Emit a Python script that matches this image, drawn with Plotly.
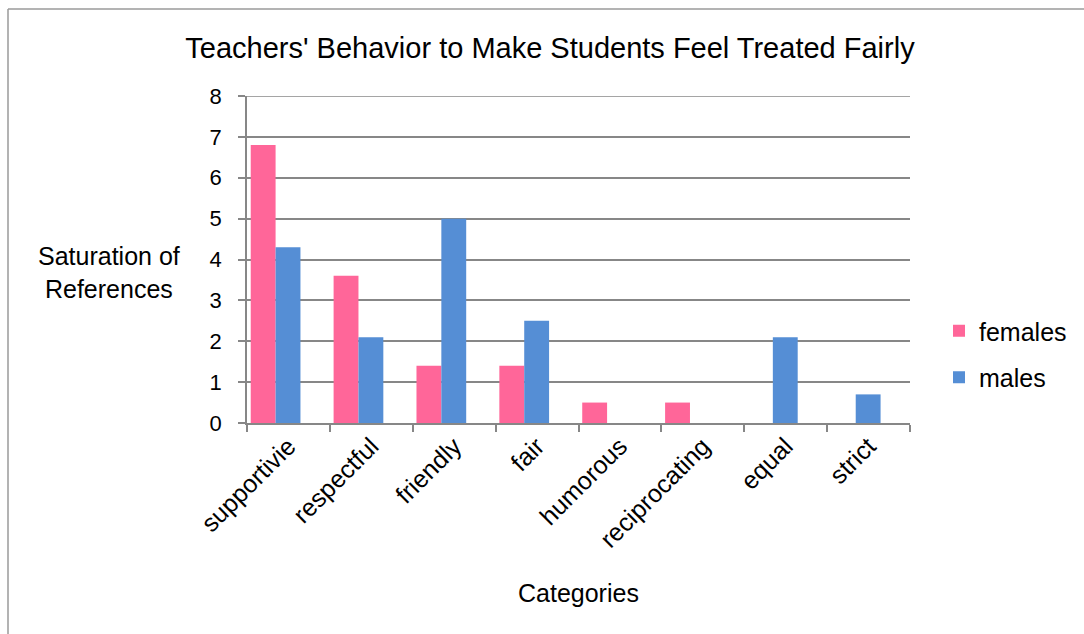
import plotly.graph_objects as go

categories = ["supportivie", "respectful", "friendly", "fair", "humorous",
              "reciprocating", "equal", "strict"]
females = [6.8, 3.6, 1.4, 1.4, 0.5, 0.5, 0, 0]
males = [4.3, 2.1, 5.0, 2.5, 0, 0, 2.1, 0.7]
y_ticks = [0, 1, 2, 3, 4, 5, 6, 7, 8]

W, H = 1084, 634
ML, MR, MT, MB = 247, 174, 96, 211
PW, PH = W - ML - MR, H - MT - MB

FONT = "Liberation Sans, Arial, sans-serif"
GRID = "#878787"

fig = go.Figure()
fig.add_trace(go.Bar(name="females", x=categories, y=females,
                     legendgroup="f",
                     marker=dict(color="#FF6699", line=dict(width=0)),
                     width=0.3, offset=-0.455))
fig.add_trace(go.Bar(name="males", x=categories, y=males,
                     legendgroup="m",
                     marker=dict(color="#558ED5", line=dict(width=0)),
                     width=0.3, offset=-0.155))


def px_x(p):
    return (p - ML) / PW


def px_y(p):
    return (H - MB - p) / PH


fig.update_layout(
    width=W, height=H,
    margin=dict(l=ML, r=MR, t=MT, b=MB, pad=0),
    paper_bgcolor="white", plot_bgcolor="white",
    font=dict(family=FONT, color="black", size=22),
    title=dict(text="Teachers' Behavior to Make Students Feel Treated Fairly",
               x=px_x(550), xanchor="center", xref="paper",
               y=1 - 48 / H, yanchor="middle",
               font=dict(size=29, family=FONT, color="black")),
    barmode="group",
    showlegend=True,
    legend=dict(x=px_x(939), y=px_y(354), xanchor="left", yanchor="middle",
                font=dict(size=25, family=FONT), traceorder="grouped",
                tracegroupgap=11, itemwidth=30, bgcolor="rgba(0,0,0,0)"),
    xaxis=dict(type="category", tickson="boundaries", ticks="outside",
               ticklen=7, tickcolor=GRID, tickwidth=1.5,
               showline=True, linecolor=GRID, linewidth=1.5,
               showgrid=False, tickangle=-45, ticklabelstandoff=-3,
               tickfont=dict(size=25, family=FONT),
               range=[-0.5, len(categories) - 0.5]),
    yaxis=dict(range=[0, 8], tickvals=y_ticks, ticks="outside", ticklen=7,
               tickcolor=GRID, tickwidth=1.5,
               showline=True, linecolor=GRID, linewidth=1.5,
               showgrid=True, gridcolor=GRID, gridwidth=1.5,
               ticklabelstandoff=12,
               zeroline=False, tickfont=dict(size=22, family=FONT)),
    annotations=[
        dict(text="Saturation of<br>References", xref="paper",
             yref="paper", x=px_x(109), y=px_y(272),
             xanchor="center", yanchor="middle", showarrow=False,
             align="center", font=dict(size=25, family=FONT)),
        dict(text="Categories", xref="paper", yref="paper",
             x=0.5, y=px_y(593), xanchor="center", yanchor="middle",
             showarrow=False, font=dict(size=25, family=FONT)),
    ],
    shapes=[
        # top gridline at the axis maximum
        dict(type="line", xref="paper", yref="y", x0=0, x1=1, y0=8, y1=8,
             line=dict(color=GRID, width=1.5)),
        # outer frame
        dict(type="line", xref="paper", yref="paper",
             x0=px_x(8), x1=px_x(W + 5), y0=px_y(9), y1=px_y(9),
             line=dict(color="#9a9a9a", width=1.5)),
        dict(type="line", xref="paper", yref="paper",
             x0=px_x(8), x1=px_x(8), y0=px_y(9), y1=px_y(H + 5),
             line=dict(color="#9a9a9a", width=1.5)),
    ],
)

fig.write_html("out.html")
